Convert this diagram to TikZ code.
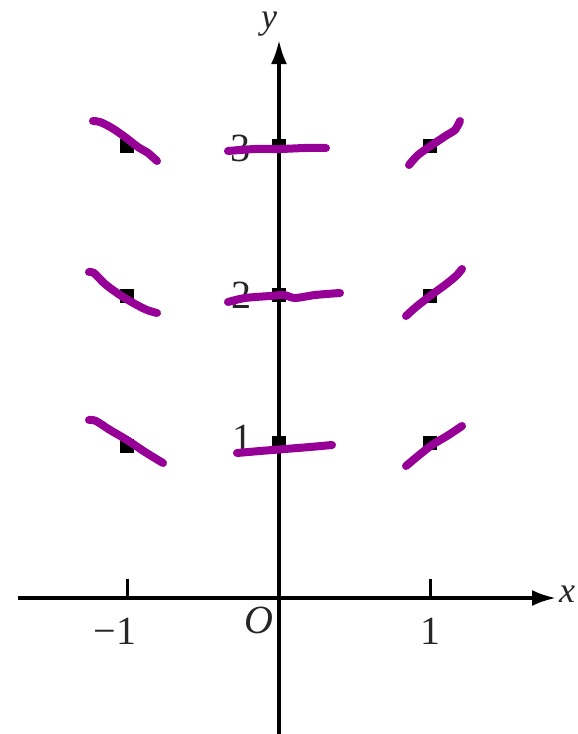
\documentclass[tikz,border=0pt]{standalone}
\usepackage{fontspec}
\setmainfont{Liberation Serif}
\usetikzlibrary{arrows.meta}
\definecolor{slopepurple}{RGB}{150,0,150}
\begin{document}
\begin{tikzpicture}[x=1pt,y=-1pt,
  axisline/.style={line width=3.5pt},
  tickline/.style={line width=3pt},
  dotbox/.style={fill=black,minimum size=14pt,inner sep=0pt,rectangle},
  lbl/.style={font=\fontsize{40}{40}\selectfont,inner sep=0pt,text=black!85},
  seg/.style={slopepurple,line width=8pt,line cap=round,line join=round}]
\useasboundingbox (0,0) rectangle (578,734);
% axes
\coordinate (xl) at (18,598);
\coordinate (xr) at (556,598);
\coordinate (yb) at (279,734);
\coordinate (yt) at (279,40);
\draw[axisline,-{Latex[length=24pt,width=16pt]}] (xl) -- (xr);
\draw[axisline,-{Latex[length=24pt,width=16pt]}] (yb) -- (yt);
\node[lbl,font=\fontsize{36}{36}\selectfont\itshape] (xlab) at (567,594) {x};
\node[lbl,font=\fontsize{36}{36}\selectfont\itshape] (ylab) at (269,24) {y};
% ticks
\coordinate (tm1a) at (127,579); \coordinate (tm1b) at (127,598);
\coordinate (tp1a) at (430,579); \coordinate (tp1b) at (430,598);
\draw[tickline] (tm1a) -- (tm1b);
\draw[tickline] (tp1a) -- (tp1b);
\node[lbl] (lm1) at (115,631) {−1};
\node[lbl] (lp1) at (430,631) {1};
\node[lbl,font=\fontsize{40}{40}\selectfont\itshape] (lo) at (259,620) {O};
\node[lbl] (ly1) at (242,438) {1};
\node[lbl] (ly2) at (241,295) {2};
\node[lbl] (ly3) at (240,148) {3};
% dots
\node[dotbox] (p01) at (279,443) {};
\node[dotbox] (p02) at (279,295) {};
\node[dotbox] (p03) at (279,146) {};
\node[dotbox] (pm11) at (127,446) {};
\node[dotbox] (pm12) at (127,296) {};
\node[dotbox] (pm13) at (127,146) {};
\node[dotbox] (pp11) at (430,443) {};
\node[dotbox] (pp12) at (430,296) {};
\node[dotbox] (pp13) at (430,146) {};
% slope segments
\draw[seg] plot[smooth] coordinates {(93,121) (100,122) (112,128) (125,137) (138,147) (148,153) (157,161)};
\draw[seg] plot[smooth] coordinates {(409,165) (418,155) (432,145) (447,135) (455,130) (460,121)};
\draw[seg] plot[smooth] coordinates {(228,151) (255,149) (280,149) (305,148) (326,148)};
\draw[seg] plot[smooth] coordinates {(89,272) (94,273) (105,284) (120,295) (135,304) (147,310) (157,313)};
\draw[seg] plot[smooth] coordinates {(406,316) (416,307) (430,296) (445,285) (456,276) (462,269)};
\draw[seg] plot[smooth] coordinates {(228,302) (245,298) (270,296) (284,295) (295,298) (315,295) (340,293)};
\draw[seg] plot[smooth] coordinates {(89,420) (96,421) (110,430) (127,440) (145,452) (163,463)};
\draw[seg] plot[smooth] coordinates {(406,466) (418,456) (432,445) (447,436) (462,426)};
\draw[seg] plot[smooth] coordinates {(237,453) (260,451) (285,449) (310,447) (332,445)};
\end{tikzpicture}
\end{document}
